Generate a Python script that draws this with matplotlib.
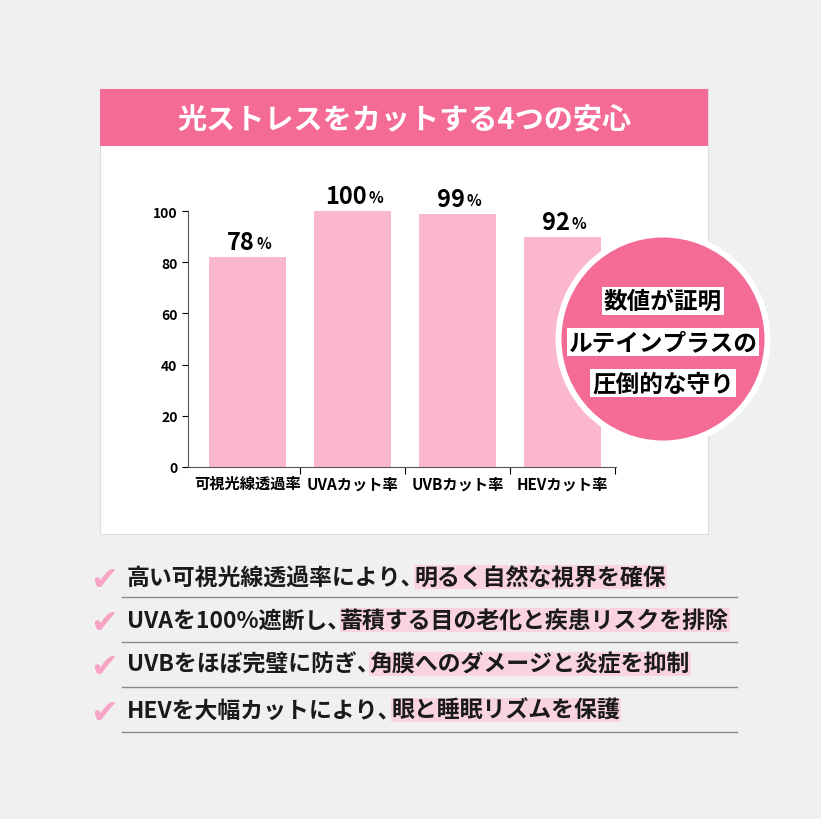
import matplotlib
matplotlib.use("Agg")
import matplotlib.pyplot as plt
from matplotlib.patches import Rectangle, Circle

plt.rcParams['font.family'] = ['Noto Sans CJK JP', 'DejaVu Sans']

categories = ['可視光線透過率', 'UVAカット率', 'UVBカット率', 'HEVカット率']
bar_values = [82, 100, 99, 90]
bar_labels = ['78', '100', '99', '92']
yticks = [0, 20, 40, 60, 80, 100]
title = '光ストレスをカットする4つの安心'
badge_lines = ['数値が証明', 'ルテインプラスの', '圧倒的な守り']
check_plain = ['高い可視光線透過率により', 'UVAを100%遮断し', 'UVBをほぼ完璧に防ぎ', 'HEVを大幅カットにより']
check_hl = ['明るく自然な視界を確保', '蓄積する目の老化と疾患リスクを排除', '角膜へのダメージと炎症を抑制', '眼と睡眠リズムを保護']

W, H = 821, 820
fig = plt.figure(figsize=(W/100, H/100), dpi=100)
fig.patch.set_facecolor('#f0f0f0')
PINK = '#f46c95'

def fx(x): return x / W
def fy(y): return 1 - y / H

fig.add_artist(Rectangle((fx(100), fy(535)), fx(608), 445/H, transform=fig.transFigure,
                         facecolor='white', edgecolor='#dddddd', lw=0.8, zorder=0))
fig.add_artist(Rectangle((fx(100), fy(147)), fx(608), 57/H, transform=fig.transFigure,
                         facecolor=PINK, edgecolor='none', zorder=1))
fig.text(fx(404), fy(119), title, color='white', fontsize=21, fontweight='bold',
         ha='center', va='center')

ax = fig.add_axes([fx(188), fy(468), fx(428), 256/H])
ax.set_facecolor('none')
x = list(range(len(categories)))
ax.bar(x, bar_values, width=0.73, color='#fbb6d0')
ax.set_xlim(-0.567, 3.51)
ax.set_ylim(0, 100)
ax.set_yticks(yticks)
ax.set_xticks(x)
ax.set_xticklabels(categories, fontsize=11, fontweight='bold')
ax.tick_params(axis='x', length=0, pad=6)
ax.set_xticks([0.5, 1.5, 2.5, 3.5], minor=True)
ax.tick_params(axis='x', which='minor', length=5, direction='out', width=0.8)
ax.tick_params(axis='y', length=4, labelsize=10, width=0.8)
for t in ax.get_yticklabels():
    t.set_fontweight('bold')
for s in ['top', 'right']:
    ax.spines[s].set_visible(False)
for s in ['left', 'bottom']:
    ax.spines[s].set_color('#555555')
    ax.spines[s].set_linewidth(0.8)

fig.canvas.draw()
r = fig.canvas.get_renderer()
for xi, v, lab in zip(x, bar_values, bar_labels):
    t = ax.annotate(lab, (xi, v), xytext=(-5, 2), textcoords='offset points', ha='center',
                    va='bottom', fontsize=17, fontweight='bold')
    e = t.get_window_extent(r)
    fig.text(e.x1 / W + 0.002, e.y0 / H + 0.004, '%', fontsize=11, fontweight='bold',
             ha='left', va='bottom')

bax = fig.add_axes([fx(555), fy(448), fx(216), 216/H])
bax.set_xlim(-1, 1); bax.set_ylim(-1, 1); bax.axis('off')
bax.add_patch(Circle((0, 0), 0.995, facecolor='white', edgecolor='none'))
bax.add_patch(Circle((0, 0), 0.94, facecolor=PINK, edgecolor='none'))
for i, line in enumerate(badge_lines):
    fig.text(fx(663), fy(302 + 41 * i), line, fontsize=17, fontweight='bold', ha='center',
             va='center', bbox=dict(facecolor='white', edgecolor='none', pad=1.2))

rows = [578, 621, 665, 711]
lines_y = [598, 643, 688, 733]
for i, (p, h) in enumerate(zip(check_plain, check_hl)):
    y = rows[i]
    fig.text(fx(104), fy(y + 3), '✔', fontsize=24, color='#f7a3c3', ha='center', va='center',
             family=['DejaVu Sans'])
    t = fig.text(fx(127), fy(y), p + '、', fontsize=16.5, fontweight='bold', ha='left',
                 va='center', color='#1a1a1a')
    ext = t.get_window_extent(r)
    fig.text(ext.x1 / W - 0.012, fy(y), h, fontsize=16.5, fontweight='bold', ha='left',
             va='center', color='#1a1a1a',
             bbox=dict(facecolor='#f9d3e2', edgecolor='none', pad=0.5))
    fig.add_artist(plt.Line2D([fx(122), fx(737)], [fy(lines_y[i])] * 2, color='#8a8a8a', lw=1))

fig.savefig('out.png', dpi=100, facecolor=fig.get_facecolor())
